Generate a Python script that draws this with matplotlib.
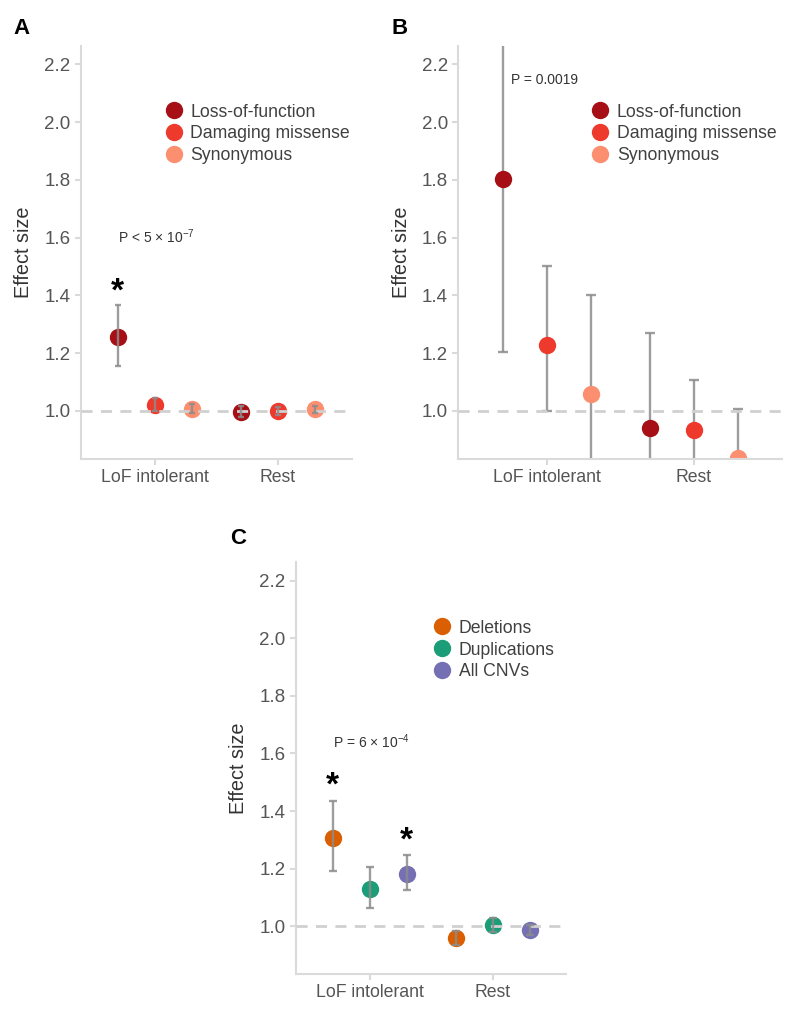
import numpy as np
import matplotlib
matplotlib.use("Agg")
import matplotlib.pyplot as plt

plt.rcParams['font.family'] = ['Liberation Sans', 'DejaVu Sans']
plt.rcParams['mathtext.fontset'] = 'custom'
plt.rcParams['mathtext.rm'] = 'Liberation Sans'
plt.rcParams['mathtext.it'] = 'Liberation Sans:italic'

categories = ['LoF intolerant', 'Rest']

snv_labels = ['Loss-of-function', 'Damaging missense', 'Synonymous']
snv_colors = ['#a50f15', '#ee3a2c', '#fc8f6f']

# panel A: effect size and CI, rows = variant class, cols = category
a_est = [[1.255, 0.995], [1.021, 1.000], [1.007, 1.005]]
a_lo = [[1.154, 0.978], [0.998, 0.986], [0.992, 0.993]]
a_hi = [[1.365, 1.018], [1.046, 1.015], [1.025, 1.016]]

# panel B
b_est = [[1.802, 0.942], [1.227, 0.932], [1.058, 0.836]]
b_lo = [[1.204, 0.70], [1.000, 0.78], [0.75, 0.65]]
b_hi = [[2.70, 1.270], [1.501, 1.108], [1.400, 1.008]]

cnv_labels = ['Deletions', 'Duplications', 'All CNVs']
cnv_colors = ['#d95f02', '#1b9e77', '#7570b3']

# panel C
c_est = [[1.306, 0.958], [1.130, 1.005], [1.182, 0.986]]
c_lo = [[1.190, 0.933], [1.064, 0.980], [1.124, 0.969]]
c_hi = [[1.433, 0.983], [1.204, 1.027], [1.246, 1.003]]

GRAY = '#dadada'
TXT = '#555555'


def draw_panel(ax, est, lo, hi, labels, colors, err_on_top, capsize, legend_x):
    x = np.arange(1, len(categories) + 1)
    offsets = [-0.3, 0.0, 0.3]
    ax.axhline(1.0, color='#d0d0d0', lw=2, ls=(0, (4, 3)), zorder=3)
    for i in range(len(labels)):
        e = np.array(est[i])
        yerr = [e - np.array(lo[i]), np.array(hi[i]) - e]
        ax.errorbar(x + offsets[i], e, yerr=yerr, fmt='none', ecolor='#8c8c8c',
                    elinewidth=1.7, capsize=capsize, capthick=1.7,
                    alpha=0.85, zorder=4 if err_on_top else 1)
        ax.plot(x + offsets[i], e, 'o', color=colors[i], ms=12.5,
                mec='none', label=labels[i], zorder=2)
    ax.set_xlim(0.4, 2.6)
    ax.set_ylim(0.834, 2.265)
    ax.set_xticks(x)
    ax.set_xticklabels(categories)
    ax.set_yticks([1.0, 1.2, 1.4, 1.6, 1.8, 2.0, 2.2])
    ax.set_yticklabels(['1.0', '1.2', '1.4', '1.6', '1.8', '2.0', '2.2'])
    ax.set_ylabel('Effect size', fontsize=14.3, color='#333333', labelpad=8)
    for s in ['top', 'right']:
        ax.spines[s].set_visible(False)
    for s in ['left', 'bottom']:
        ax.spines[s].set_color(GRAY)
        ax.spines[s].set_linewidth(1.5)
    ax.tick_params(axis='both', colors=GRAY, labelcolor=TXT, labelsize=12.7,
                   length=4.5, width=1.5, pad=3)
    ax.tick_params(axis='y', labelsize=13.5)
    ax.legend(loc='upper left', bbox_to_anchor=(legend_x, 0.86), frameon=False,
              fontsize=12.7, labelcolor='#404040', borderpad=0, borderaxespad=0,
              handlelength=1.0, handletextpad=0.45, labelspacing=0.28,
              markerscale=1.0)


fig = plt.figure(figsize=(8, 10.15), dpi=100)

axA = fig.add_axes([0.101, 0.548, 0.339, 0.407])
draw_panel(axA, a_est, a_lo, a_hi, snv_labels, snv_colors, True, 2.5, 0.31)
axA.text(1 - 0.3, 1.604, r'P < 5 $\times$ 10$^{-7}$', fontsize=10, color='#333333',
         ha='left', va='center')
axA.text(1 - 0.3, 1.41, '*', fontsize=24, fontweight='bold', ha='center', va='center')

axB = fig.add_axes([0.573, 0.548, 0.405, 0.407])
draw_panel(axB, b_est, b_lo, b_hi, snv_labels, snv_colors, False, 3.6, 0.41)
axB.text(1 - 0.24, 2.146, 'P = 0.0019', fontsize=10, color='#333333',
         ha='left', va='center')

axC = fig.add_axes([0.370, 0.0404, 0.338, 0.406])
draw_panel(axC, c_est, c_lo, c_hi, cnv_labels, cnv_colors, True, 2.6, 0.508)
axC.text(1 - 0.3, 1.641, r'P = 6 $\times$ 10$^{-4}$', fontsize=10, color='#333333',
         ha='left', va='center')
axC.text(1 - 0.3, 1.488, '*', fontsize=24, fontweight='bold', ha='center', va='center')
axC.text(1 + 0.3, 1.297, '*', fontsize=24, fontweight='bold', ha='center', va='center')

fig.text(22 / 800, 1 - 28 / 1015, 'A', fontsize=16, fontweight='bold', ha='center', va='center')
fig.text(400 / 800, 1 - 28 / 1015, 'B', fontsize=16, fontweight='bold', ha='center', va='center')
fig.text(238 / 800, 1 - 539 / 1015, 'C', fontsize=16, fontweight='bold', ha='center', va='center')

fig.savefig('out.png', dpi=100)
